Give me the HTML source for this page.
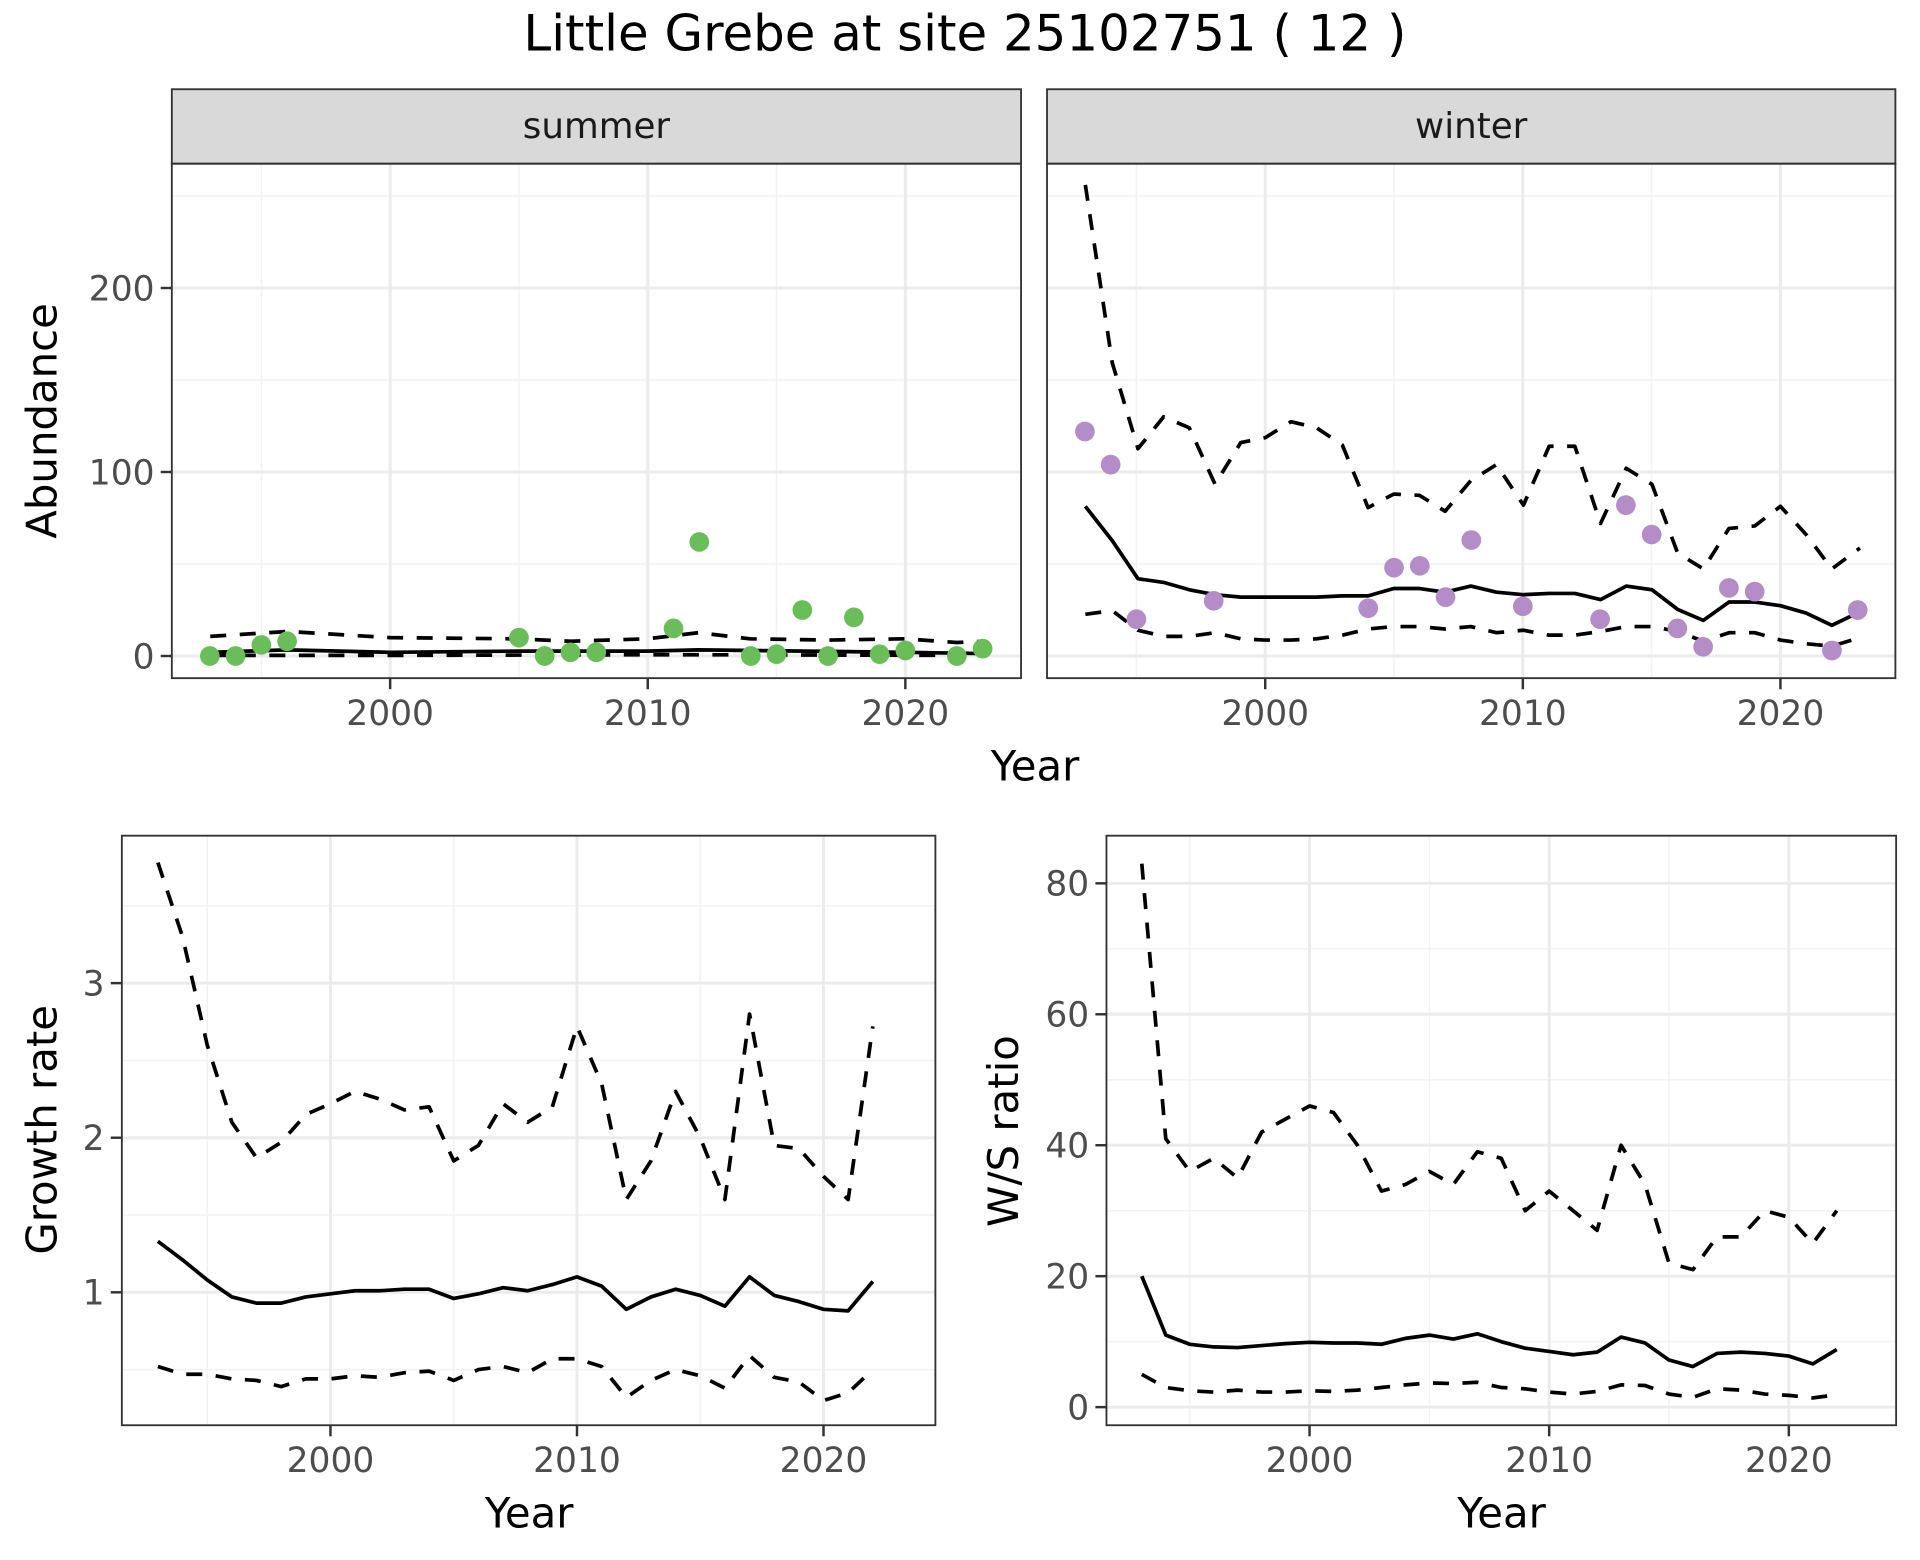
<!DOCTYPE html>
<html><head><meta charset="utf-8"><style>
html,body{margin:0;padding:0;background:#fff}
svg{display:block}
text{font-family:"DejaVu Sans","Liberation Sans",sans-serif}
</style></head><body>
<svg id="s" width="1920" height="1560" viewBox="0 0 1560 1267.5" xmlns="http://www.w3.org/2000/svg">
<rect width="1560" height="1267.5" fill="#fff"/>
<text x="784" y="41" font-size="40.5" text-anchor="middle" fill="#000">Little Grebe at site 25102751 ( 12 )</text>
<g id="g"></g>
</svg>
<script>
const g=document.getElementById('g');let h='';
function L(x1,y1,x2,y2,c,w){h+=`<line x1="${x1}" y1="${y1}" x2="${x2}" y2="${y2}" stroke="${c}" stroke-width="${w}"/>`;}
function T(x,y,s,t,a,c,extra){h+=`<text x="${x}" y="${y}" font-size="${s}" text-anchor="${a||'middle'}" fill="${c||'#000'}" ${extra||''}>${t}</text>`;}
function P(pts,dash){h+=`<polyline points="${pts.map(p=>p.join(',')).join(' ')}" fill="none" stroke="#000" stroke-width="3" ${dash?'stroke-dasharray="13,11"':''} stroke-linejoin="round"/>`;}
function panel(x0,y0,x1,y1,xmaj,xmin,ymaj,ymin){
 ymin.forEach(y=>L(x0,y,x1,y,'#f2f2f2',1.2));xmin.forEach(x=>L(x,y0,x,y1,'#f2f2f2',1.2));
 ymaj.forEach(y=>L(x0,y,x1,y,'#ebebeb',2.4));xmaj.forEach(x=>L(x,y0,x,y1,'#ebebeb',2.4));
}
function border(x0,y0,x1,y1){h+=`<rect x="${x0}" y="${y0}" width="${x1-x0}" height="${y1-y0}" fill="none" stroke="#333" stroke-width="1.5"/>`;}
function xticks(xs,labs,y){xs.forEach((x,i)=>{L(x,y,x,y+9,'#333',2);T(x,y+38,28,labs[i],'middle','#4d4d4d');});}
function yticks(ys,labs,x){ys.forEach((y,i)=>{L(x-9,y,x,y,'#333',2);T(x-14,y+10,28,labs[i],'end','#4d4d4d');});}
const SL=139.6,SR=829.6,WL=850.7,WR=1540,PT=133,PB=551;
const sx=y=>317+(y-2000)*20.93, wx=y=>1028+(y-2000)*20.93, ay=v=>533-v*1.495;
const cw=([x,y])=>[1028+(x-1031)*20.93/21.05, 533+(y-536)*1.495/1.5];
const cs=([x,y])=>[317+(x-318)*20.93/21.05, 533+(y-536)*1.495/1.5];
[[SL,SR,sx,'summer'],[WL,WR,wx,'winter']].forEach(([a,b,f,n])=>{
 panel(a,PT,b,PB,[2000,2010,2020].map(f),[1995,2005,2015].map(f),[0,100,200].map(ay),[50,150,250].map(ay));
 h+=`<rect x="${a}" y="72.5" width="${b-a}" height="${PT-72.5}" fill="#d9d9d9" stroke="#333" stroke-width="1.5"/>`;
 T((a+b)/2,112,29,n,'middle','#1a1a1a');
});
P([[171,520],[234,516],[318,521],[423,522],[465,524],[528,522],[570,517],[612,522],[676,523],[739,522],[781,525],[802,524]].map(cs),1);
P([[171,533],[234,531],[318,533],[423,532],[528,532],[570,531],[739,533],[802,534]].map(cs));
P([[171,535.5],[318,535.5],[528,535],[570,535],[802,535.5]].map(cs),1);
[[1993,0],[1994,0],[1995,6],[1996,8],[2005,10],[2006,0],[2007,2],[2008,2],[2011,15],[2012,62],[2014,0],[2015,1],[2016,25],[2017,0],[2018,21],[2019,1],[2020,3],[2022,0],[2023,4]].forEach(([y,v])=>h+=`<circle cx="${sx(y)}" cy="${ay(v)}" r="8" fill="#6abe5a"/>`);
P([[884,152],[906,297],[927,367],[948,341],[969,350],[990,396],[1011,362],[1031,358],[1052,345],[1073,350],[1094,364],[1115,415],[1136,404],[1157,405],[1178,418],[1199,393],[1220,380],[1242,413],[1263,365],[1284,365],[1305,428],[1326,383],[1347,396],[1368,452],[1389,465],[1410,432],[1431,430],[1452,414],[1473,437],[1494,465],[1517,448]].map(cw),1);
P([[884,414],[906,442],[927,473],[948,476],[969,482],[990,486],[1011,488],[1031,488],[1052,488],[1073,488],[1094,487],[1115,487],[1136,481],[1157,481],[1178,484],[1199,479],[1220,484],[1242,486],[1263,485],[1284,485],[1305,490],[1326,479],[1347,482],[1368,498],[1389,507],[1410,492],[1431,492],[1452,495],[1473,501],[1494,511],[1517,500]].map(cw));
P([[884,502],[906,499],[927,515],[948,520],[969,520],[990,517],[1011,522],[1031,523],[1052,523],[1073,522],[1094,519],[1115,514],[1136,512],[1157,512],[1178,514],[1199,512],[1220,517],[1242,515],[1263,519],[1284,519],[1305,516],[1326,512],[1347,512],[1368,516],[1389,524],[1410,517],[1431,517],[1452,523],[1473,526],[1494,528],[1517,521]].map(cw),1);
[[1993,122],[1994,104],[1995,20],[1998,30],[2004,26],[2005,48],[2006,49],[2007,32],[2008,63],[2010,27],[2013,20],[2014,82],[2015,66],[2016,15],[2017,5],[2018,37],[2019,35],[2022,3],[2023,25]].forEach(([y,v])=>h+=`<circle cx="${wx(y)}" cy="${ay(v)}" r="8" fill="#b48cc8"/>`);
border(SL,PT,SR,PB);border(WL,PT,WR,PB);
xticks([2000,2010,2020].map(sx),['2000','2010','2020'],PB);
xticks([2000,2010,2020].map(wx),['2000','2010','2020'],PB);
yticks([0,100,200].map(ay),['0','100','200'],SL);
T(841,634,34,'Year');
T(0,0,34,'Abundance','middle','#000','transform="translate(46,342) rotate(-90)"');
const BT=679,BB=1158;
const gx=y=>268.5+(y-2000)*20.03, gy=v=>1050-(v-1)*125.6;
const yrs=[];for(let y=1993;y<=2022;y++)yrs.push(y);
panel(99,BT,760,BB,[2000,2010,2020].map(gx),[1995,2005,2015].map(gx),[1,2,3].map(gy),[0.5,1.5,2.5,3.5].map(gy));
const gu=[3.78,3.3,2.6,2.1,1.87,1.97,2.15,2.22,2.3,2.25,2.18,2.2,1.85,1.95,2.22,2.1,2.2,2.72,2.35,1.6,1.85,2.3,2.0,1.6,2.8,1.95,1.93,1.75,1.6,2.72];
const gm=[1.33,1.21,1.08,0.97,0.93,0.93,0.97,0.99,1.01,1.01,1.02,1.02,0.96,0.99,1.03,1.01,1.05,1.1,1.04,0.89,0.97,1.02,0.98,0.91,1.1,0.98,0.94,0.89,0.88,1.07];
const gl=[.52,.47,.47,.44,.43,.39,.44,.44,.46,.45,.48,.49,.43,.5,.52,.48,.57,.57,.52,.32,.43,.5,.46,.38,.59,.45,.42,.3,.35,.5];
P(yrs.map((y,i)=>[gx(y),gy(gu[i])]),1);P(yrs.map((y,i)=>[gx(y),gy(gm[i])]));P(yrs.map((y,i)=>[gx(y),gy(gl[i])]),1);
border(99,BT,760,BB);
xticks([2000,2010,2020].map(gx),['2000','2010','2020'],BB);
yticks([1,2,3].map(gy),['1','2','3'],99);
T(430,1241,34,'Year');
T(0,0,34,'Growth rate','middle','#000','transform="translate(46,918) rotate(-90)"');
const rx=y=>1064+(y-2000)*19.47, ry=v=>1143.3-v*5.32;
panel(899,BT,1540.6,BB,[2000,2010,2020].map(rx),[1995,2005,2015].map(rx),[0,20,40,60,80].map(ry),[10,30,50,70].map(ry));
const ru=[83,41,36,38,35,42,44,46,45,40,33,34,36,34,39,38,30,33,30,27,40,34,22,21,26,26,30,29,25,30];
const rm=[20,11,9.6,9.2,9.1,9.4,9.7,9.9,9.8,9.8,9.6,10.5,11,10.4,11.2,10,9,8.5,8,8.4,10.7,9.8,7.2,6.2,8.2,8.4,8.2,7.8,6.6,8.8];
const rl=[5,3,2.5,2.3,2.6,2.3,2.3,2.5,2.4,2.6,3,3.4,3.7,3.6,3.8,3,2.8,2.3,2,2.4,3.4,3.3,2,1.5,2.8,2.6,2,1.8,1.4,1.9];
P(yrs.map((y,i)=>[rx(y),ry(ru[i])]),1);P(yrs.map((y,i)=>[rx(y),ry(rm[i])]));P(yrs.map((y,i)=>[rx(y),ry(rl[i])]),1);
border(899,BT,1540.6,BB);
xticks([2000,2010,2020].map(rx),['2000','2010','2020'],BB);
yticks([0,20,40,60,80].map(ry),['0','20','40','60','80'],899);
T(1220,1241,34,'Year');
T(0,0,34,'W/S ratio','middle','#000','transform="translate(827,919) rotate(-90)"');
g.innerHTML=h;
</script>
</body></html>
